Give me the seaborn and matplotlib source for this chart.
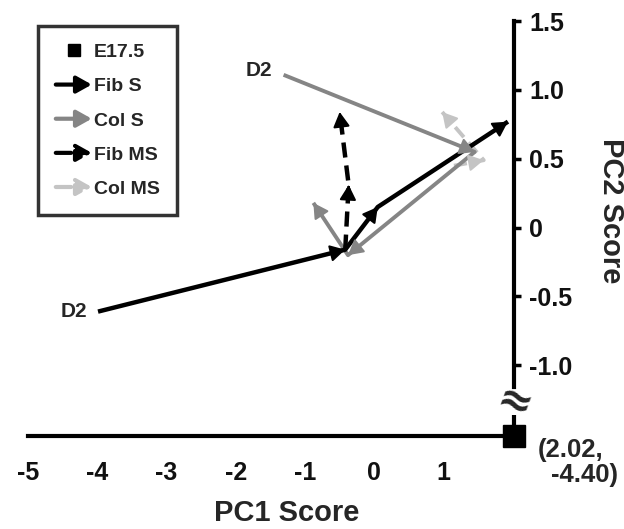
import numpy as np
import pandas as pd
import seaborn as sns
import matplotlib
matplotlib.use("Agg")
import matplotlib.pyplot as plt
from matplotlib.lines import Line2D
from matplotlib.patches import FancyArrowPatch
from matplotlib.legend_handler import HandlerBase, HandlerLine2D


# PCA trajectories (PC1, PC2)
FIB_S_X  = [-3.99, -0.42, 0.05, 1.93]
FIB_S_Y  = [-0.61, -0.16, 0.15, 0.77]
COL_S_X  = [-1.31, 1.45, -0.38, -0.88]
COL_S_Y  = [1.11, 0.55, -0.20, 0.18]
FIB_MS_X = [-0.42, -0.37, -0.50]
FIB_MS_Y = [-0.16, 0.31, 0.84]
COL_MS_X = [1.15, 1.58, 0.98]
COL_MS_Y = [0.45, 0.49, 0.84]

E17_X, E17_Y = 2.02, -4.40

X_TICKS = [-5, -4, -3, -2, -1, 0, 1]
Y_TICKS = [1.5, 1.0, 0.5, 0, -0.5, -1.0]
Y_TICK_LABELS = ['1.5', '1.0', '0.5', '0', '-0.5', '-1.0']

BLACK = '#000000'
GRAY = '#858585'
LIGHT = '#c4c4c4'
DASH = (0, (3.4, 1.8))
HEAD = '-|>,head_length=0.75,head_width=0.42'

# broken y axis: linear above BREAK, squeezed below it
BREAK = -1.3
SQUEEZE = 0.0687


def fwd(y):
    y = np.asarray(y, dtype=float)
    return np.where(y >= BREAK, y, BREAK + (y - BREAK) * SQUEEZE)


def inv(y):
    y = np.asarray(y, dtype=float)
    return np.where(y >= BREAK, y, BREAK + (y - BREAK) / SQUEEZE)


class ArrowHandler(HandlerBase):
    def create_artists(self, legend, orig_handle, xdescent, ydescent,
                       width, height, fontsize, trans):
        y = height / 2 - ydescent
        a = FancyArrowPatch((-xdescent, y), (width - xdescent, y),
                            arrowstyle=HEAD, mutation_scale=12,
                            color=orig_handle.get_color(),
                            lw=3, linestyle=orig_handle.get_linestyle(),
                            shrinkA=0, shrinkB=0, transform=trans)
        return [a]


def draw_path(ax, xs, ys, color, lw, ls='-'):
    df = pd.DataFrame({'x': xs, 'y': ys})
    sns.lineplot(data=df, x='x', y='y', sort=False, estimator=None,
                 color=color, linewidth=lw, linestyle=ls, ax=ax,
                 solid_capstyle='butt', dash_capstyle='butt')
    for i in range(len(xs) - 1):
        p0 = np.array([xs[i], ys[i]])
        p1 = np.array([xs[i + 1], ys[i + 1]])
        ax.annotate('', xy=p1, xytext=p1 - (p1 - p0) * 0.04,
                    arrowprops=dict(arrowstyle=HEAD, mutation_scale=12,
                                    color=color, lw=1.5,
                                    shrinkA=0, shrinkB=0))


sns.set_style('white')
plt.rcParams['font.family'] = ['Liberation Sans', 'DejaVu Sans']
plt.rcParams['font.weight'] = 'bold'

fig = plt.figure(figsize=(6.24, 5.29), dpi=100)
ax = fig.add_axes([0.045, 0.176, 0.779, 0.784])
ax.set_yscale('function', functions=(fwd, inv))

draw_path(ax, COL_MS_X, COL_MS_Y, LIGHT, 2.8, DASH)
draw_path(ax, COL_S_X, COL_S_Y, GRAY, 2.8)
draw_path(ax, FIB_S_X, FIB_S_Y, BLACK, 3.2)
draw_path(ax, FIB_MS_X, FIB_MS_Y, BLACK, 3.2, DASH)

ax.plot([E17_X], [E17_Y], marker='s', markersize=16, color=BLACK,
        linestyle='none', clip_on=False, zorder=5)

ax.annotate('D2', xy=(COL_S_X[0], COL_S_Y[0]), xytext=(-8, 3),
            textcoords='offset points', ha='right', va='center', fontsize=15)
ax.annotate('D2', xy=(FIB_S_X[0], FIB_S_Y[0]), xytext=(-8, 0),
            textcoords='offset points', ha='right', va='center', fontsize=15)
ax.annotate('(2.02,', xy=(E17_X, E17_Y), xytext=(17, -10),
            textcoords='offset points', ha='left', va='center', fontsize=18.5,
            annotation_clip=False)
ax.annotate('-4.40)', xy=(E17_X, E17_Y), xytext=(75, -28),
            textcoords='offset points', ha='right', va='center', fontsize=18.5,
            annotation_clip=False)

ax.set_xlim(-5, E17_X)
ax.set_ylim(E17_Y, 1.5)

# axes styling
for side in ['top', 'left']:
    ax.spines[side].set_visible(False)
ax.spines['bottom'].set_linewidth(3)
ax.spines['bottom'].set_color(BLACK)
ax.spines['right'].set_linewidth(3)
ax.spines['right'].set_color(BLACK)
ax.spines['right'].set_bounds(-1.16, 1.5)
ax.plot([E17_X, E17_X], [-2.17, E17_Y], color=BLACK, lw=3, clip_on=False,
        solid_capstyle='butt')
ax.text(E17_X, -1.27, '≈', fontsize=30, ha='center', va='center',
        family='DejaVu Sans', rotation=-20)

ax.yaxis.tick_right()
ax.set_xticks(X_TICKS)
ax.set_xticklabels([str(t) for t in X_TICKS])
ax.set_yticks(Y_TICKS)
ax.set_yticklabels(Y_TICK_LABELS)
ax.yaxis.set_minor_locator(matplotlib.ticker.NullLocator())
ax.tick_params(axis='both', direction='out', length=5, width=2.5,
               color=BLACK, labelsize=18, labelcolor='#111111')
ax.tick_params(axis='y', pad=6)
ax.tick_params(axis='x', pad=13)

ax.set_xlabel('PC1 Score', fontsize=21, fontweight='bold')
ax.xaxis.set_label_coords(0.533, -0.153)
ax.yaxis.set_label_position('right')
ax.set_ylabel('PC2 Score', fontsize=21, fontweight='bold', rotation=-90,
              va='center', ha='center')
ax.yaxis.set_label_coords(1.20, 0.542)

handles = [
    Line2D([], [], marker='s', markersize=8, color=BLACK, linestyle='none'),
    Line2D([], [], color=BLACK, linestyle='-'),
    Line2D([], [], color=GRAY, linestyle='-'),
    Line2D([], [], color=BLACK, linestyle='--'),
    Line2D([], [], color=LIGHT, linestyle='--'),
]
labels = ['E17.5', 'Fib S', 'Col S', 'Fib MS', 'Col MS']
handler_map = {h: ArrowHandler() for h in handles[1:]}
handler_map[handles[0]] = HandlerLine2D(numpoints=1)
leg = ax.legend(handles, labels, handler_map=handler_map,
                loc='upper left', bbox_to_anchor=(0.021, 0.988),
                borderaxespad=0, fontsize=14, frameon=True, fancybox=False,
                handlelength=1.85, handletextpad=0.1, labelspacing=0.85,
                borderpad=0.9)
leg.get_frame().set_edgecolor(BLACK)
leg.get_frame().set_linewidth(2.5)

fig.savefig('out.png', dpi=100)
